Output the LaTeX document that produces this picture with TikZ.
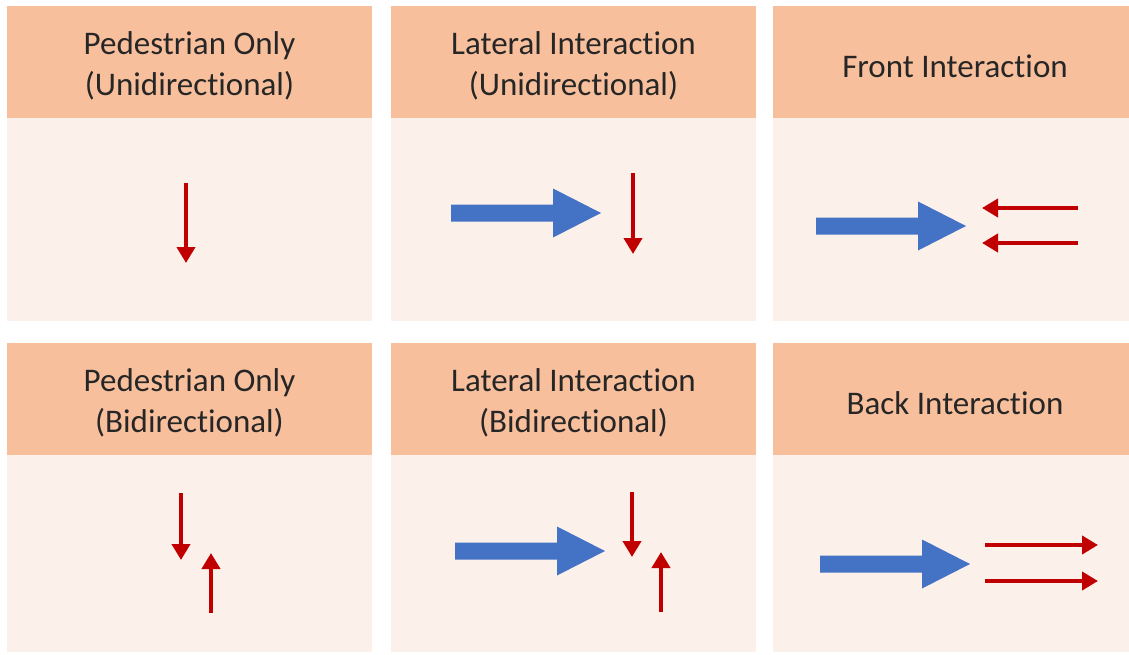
\documentclass[tikz,border=0pt]{standalone}
\usepackage{fontspec}
\setmainfont{Carlito}[Ligatures={NoCommon}]
\usetikzlibrary{arrows.meta}
\definecolor{hdr}{HTML}{F8BF9C}
\definecolor{bdy}{HTML}{FBF0EA}
\definecolor{ablue}{HTML}{4472C4}
\definecolor{ared}{HTML}{C00000}
\definecolor{txt}{HTML}{262626}
\tikzset{
  hdrbox/.style={fill=hdr, draw=none},
  bdybox/.style={fill=bdy, draw=none},
  hdrtext/.style={text=txt, align=center, font=\fontsize{33}{41}\selectfont, inner sep=0pt},
  redarrow/.style={draw=ared, line width=4.5pt, -{Triangle[length=16pt,width=18pt]}},
  pics/bigarrow/.style={code={
    \fill[ablue] (0,-8.5) -- (102,-8.5) -- (102,-24.5) -- (150,0) -- (102,24.5) -- (102,8.5) -- (0,8.5) -- cycle;
  }}
}
\begin{document}
\begin{tikzpicture}[x=1pt,y=-1pt]
\useasboundingbox (0,0) rectangle (1129,655);
\fill[white] (0,0) rectangle (1129,655);
% cells
\foreach \c/\xa/\xb in {1/7/372, 2/391/756, 3/773/1129} {
  \fill[hdrbox] (\xa,6) rectangle (\xb,118);
  \fill[bdybox] (\xa,118) rectangle (\xb,321);
  \fill[hdrbox] (\xa,343) rectangle (\xb,455);
  \fill[bdybox] (\xa,455) rectangle (\xb,652);
}
% header texts
\node[hdrtext] (h11) at (189.5,66) {Pedestrian Only\\(Unidirectional)};
\node[hdrtext] (h12) at (573.5,66) {Lateral Interaction\\(Unidirectional)};
\node[hdrtext] (h13) at (955,66) {Front Interaction};
\node[hdrtext] (h21) at (189.5,403) {Pedestrian Only\\(Bidirectional)};
\node[hdrtext] (h22) at (573.5,403) {Lateral Interaction\\(Bidirectional)};
\node[hdrtext] (h23) at (955,403) {Back Interaction};
% row 1, cell 1
\coordinate (a1s) at (186,183); \coordinate (a1e) at (186,263);
\draw[redarrow] (a1s) -- (a1e);
% row 1, cell 2
\pic at (451,213) {bigarrow};
\coordinate (a2s) at (633,173); \coordinate (a2e) at (633,254);
\draw[redarrow] (a2s) -- (a2e);
% row 1, cell 3
\pic at (816,226) {bigarrow};
\coordinate (a3s) at (1078,208); \coordinate (a3e) at (982,208);
\coordinate (a4s) at (1078,243); \coordinate (a4e) at (982,243);
\draw[redarrow] (a3s) -- (a3e);
\draw[redarrow] (a4s) -- (a4e);
% row 2, cell 1
\coordinate (b1s) at (181,493); \coordinate (b1e) at (181,560);
\coordinate (b2s) at (211,613); \coordinate (b2e) at (211,553);
\draw[redarrow] (b1s) -- (b1e);
\draw[redarrow] (b2s) -- (b2e);
% row 2, cell 2
\pic at (455,551) {bigarrow};
\coordinate (b3s) at (632,492); \coordinate (b3e) at (632,557);
\coordinate (b4s) at (661,612); \coordinate (b4e) at (661,552);
\draw[redarrow] (b3s) -- (b3e);
\draw[redarrow] (b4s) -- (b4e);
% row 2, cell 3
\pic at (820,564) {bigarrow};
\coordinate (b5s) at (985,545); \coordinate (b5e) at (1098,545);
\coordinate (b6s) at (985,581); \coordinate (b6e) at (1098,581);
\draw[redarrow] (b5s) -- (b5e);
\draw[redarrow] (b6s) -- (b6e);
\end{tikzpicture}
\end{document}
